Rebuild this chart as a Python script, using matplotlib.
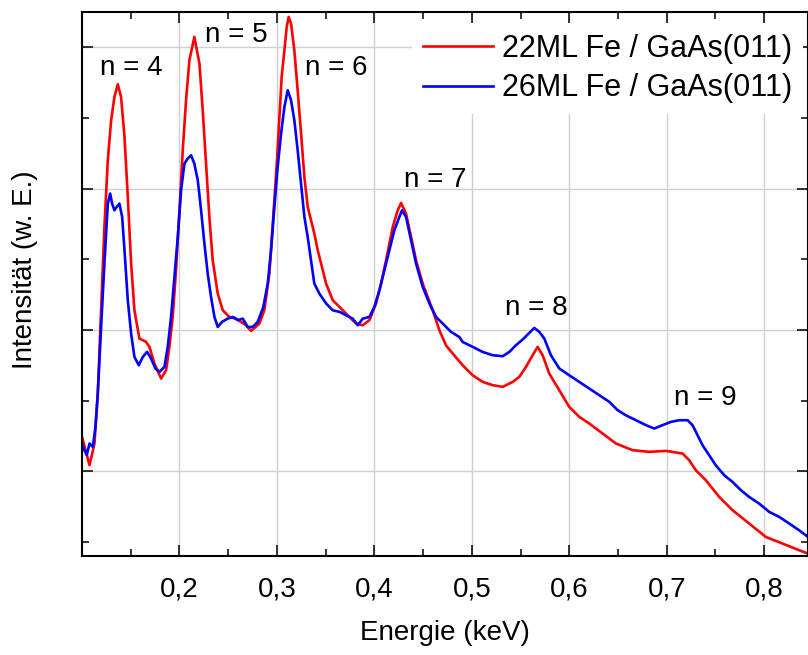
"""Plot of the n = 4..9 resonances for two Fe / GaAs(011) films"""
import matplotlib
matplotlib.use("Agg")
import matplotlib.pyplot as plt
from matplotlib.ticker import MultipleLocator, FuncFormatter

plt.rcParams['font.family'] = ['Liberation Sans', 'DejaVu Sans']

# energy (keV) and intensity (arb. units)
energy_22 = [0.100, 0.1077, 0.1128, 0.1162, 0.1196, 0.1230, 0.1265, 0.1299, 0.1333, 0.1367,
             0.1401, 0.1436, 0.1470, 0.1504, 0.1538, 0.1589, 0.1658, 0.1692, 0.1743, 0.1812,
             0.1863, 0.1897, 0.1931, 0.1965, 0.2000, 0.2034, 0.2068, 0.2102, 0.2153, 0.2205,
             0.2239, 0.2273, 0.2307, 0.2341, 0.2393, 0.2444, 0.2512, 0.2581, 0.2683, 0.2735,
             0.2820, 0.2871, 0.2923, 0.2974, 0.3001, 0.3026, 0.3049, 0.3077, 0.3101, 0.3121,
             0.3145, 0.3179, 0.3213, 0.3248, 0.3282, 0.3316, 0.3350, 0.3384, 0.3419, 0.3505,
             0.3573, 0.3642, 0.3744, 0.3812, 0.3881, 0.3949, 0.4018, 0.4069, 0.4120, 0.4189,
             0.4240, 0.4274, 0.4325, 0.4377, 0.4428, 0.4496, 0.4599, 0.4667, 0.4736, 0.4804,
             0.4906, 0.5009, 0.5112, 0.5214, 0.5317, 0.5419, 0.5488, 0.5556, 0.5624, 0.5676,
             0.5727, 0.5795, 0.5898, 0.6000, 0.6103, 0.6206, 0.6342, 0.6479, 0.6650, 0.6821,
             0.6992, 0.7163, 0.7231, 0.7299, 0.7402, 0.7539, 0.7676, 0.7846, 0.8017, 0.8188,
             0.8359, 0.8450]
intens_22 = [1.243, 1.043, 1.196, 1.550, 2.139, 2.729, 3.201, 3.484, 3.649, 3.739,
             3.649, 3.366, 2.942, 2.470, 2.139, 1.939, 1.915, 1.880, 1.762, 1.656,
             1.715, 1.880, 2.092, 2.423, 2.847, 3.272, 3.626, 3.909, 4.074, 3.885,
             3.555, 3.177, 2.800, 2.493, 2.257, 2.140, 2.092, 2.080, 2.033, 1.993,
             2.045, 2.140, 2.400, 2.918, 3.201, 3.508, 3.791, 3.980, 4.145, 4.215,
             4.168, 3.980, 3.696, 3.390, 3.083, 2.871, 2.776, 2.682, 2.564, 2.328,
             2.210, 2.163, 2.092, 2.045, 2.033, 2.069, 2.187, 2.328, 2.493, 2.729,
             2.847, 2.899, 2.823, 2.658, 2.493, 2.328, 2.139, 1.998, 1.890, 1.833,
             1.750, 1.679, 1.632, 1.609, 1.597, 1.632, 1.668, 1.738, 1.821, 1.880,
             1.821, 1.691, 1.573, 1.455, 1.385, 1.337, 1.267, 1.196, 1.149, 1.137,
             1.144, 1.125, 1.078, 1.007, 0.936, 0.818, 0.724, 0.630, 0.535, 0.488,
             0.441, 0.417]

energy_26 = [0.100, 0.1025, 0.1049, 0.1077, 0.1111, 0.1138, 0.1162, 0.1196, 0.1230, 0.1265,
             0.1289, 0.1309, 0.1333, 0.1357, 0.1384, 0.1412, 0.1436, 0.1470, 0.1504, 0.1538,
             0.1583, 0.1624, 0.1668, 0.1709, 0.1753, 0.1795, 0.1846, 0.1880, 0.1914, 0.1948,
             0.1983, 0.2017, 0.2051, 0.2085, 0.2119, 0.2153, 0.2188, 0.2222, 0.2256, 0.2290,
             0.2324, 0.2359, 0.2393, 0.2437, 0.2495, 0.2547, 0.2598, 0.2649, 0.2701, 0.2752,
             0.2803, 0.2860, 0.2906, 0.2940, 0.2974, 0.3008, 0.3043, 0.3077, 0.3111, 0.3145,
             0.3179, 0.3213, 0.3248, 0.3282, 0.3316, 0.3350, 0.3384, 0.3436, 0.3505, 0.3573,
             0.3642, 0.3710, 0.3778, 0.3830, 0.3881, 0.3949, 0.4000, 0.4052, 0.4103, 0.4154,
             0.4205, 0.4257, 0.4284, 0.4325, 0.4377, 0.4428, 0.4496, 0.4565, 0.4633, 0.4701,
             0.4787, 0.4872, 0.4906, 0.5009, 0.5112, 0.5214, 0.5317, 0.5385, 0.5453, 0.5522,
             0.5590, 0.5641, 0.5693, 0.5744, 0.5812, 0.5898, 0.6000, 0.6103, 0.6206, 0.6308,
             0.6411, 0.6496, 0.6581, 0.6684, 0.6787, 0.6872, 0.6957, 0.7043, 0.7129, 0.7214,
             0.7265, 0.7316, 0.7368, 0.7436, 0.7504, 0.7590, 0.7676, 0.7761, 0.7846, 0.7949,
             0.8052, 0.8154, 0.8257, 0.8359, 0.8450]
intens_26 = [1.196, 1.149, 1.113, 1.196, 1.172, 1.314, 1.550, 2.021, 2.470, 2.894,
             2.965, 2.894, 2.847, 2.871, 2.894, 2.800, 2.564, 2.210, 1.974, 1.809,
             1.750, 1.809, 1.845, 1.797, 1.727, 1.703, 1.738, 1.880, 2.092, 2.375,
             2.659, 2.989, 3.177, 3.213, 3.236, 3.177, 3.059, 2.847, 2.611, 2.399,
             2.234, 2.092, 2.021, 2.057, 2.080, 2.092, 2.069, 2.080, 2.021, 2.021,
             2.057, 2.160, 2.328, 2.564, 2.871, 3.154, 3.390, 3.578, 3.696, 3.626,
             3.484, 3.272, 3.036, 2.800, 2.658, 2.493, 2.328, 2.257, 2.187, 2.139,
             2.128, 2.104, 2.080, 2.033, 2.080, 2.092, 2.163, 2.281, 2.423, 2.564,
             2.705, 2.800, 2.847, 2.800, 2.635, 2.470, 2.305, 2.187, 2.092, 2.045,
             1.986, 1.950, 1.915, 1.880, 1.844, 1.821, 1.814, 1.844, 1.892, 1.932,
             1.979, 2.014, 1.986, 1.939, 1.821, 1.727, 1.679, 1.632, 1.585, 1.538,
             1.491, 1.432, 1.396, 1.361, 1.326, 1.302, 1.326, 1.349, 1.361, 1.361,
             1.326, 1.255, 1.184, 1.113, 1.042, 0.972, 0.924, 0.866, 0.818, 0.771,
             0.712, 0.677, 0.630, 0.582, 0.535]

labels = ['22ML Fe / GaAs(011)', '26ML Fe / GaAs(011)']

# peak labels
peak_names = ['n = 4', 'n = 5', 'n = 6', 'n = 7', 'n = 8', 'n = 9']
peak_x = [0.151, 0.258, 0.361, 0.463, 0.566, 0.740]
peak_y = [3.852, 4.085, 3.852, 3.060, 2.154, 1.517]


def comma_label(v, pos):
    """Decimal comma, no label on the left edge"""
    if v < 0.15:
        return ''
    return f'{v:.1f}'.replace('.', ',')


fig = plt.figure(figsize=(8.08, 6.55), dpi=100)
ax = fig.add_axes([82 / 808, 1 - 556 / 655, 1 - 82 / 808, 544 / 655])

ax.plot(energy_22, intens_22, color='#ff0000', lw=1.9, label=labels[0],
        solid_joinstyle='round')
ax.plot(energy_26, intens_26, color='#0000ff', lw=1.9, label=labels[1],
        solid_joinstyle='round')

for name, px, py in zip(peak_names, peak_x, peak_y):
    ax.text(px, py, name, fontsize=20, ha='center', va='center')

ax.set_xlim(0.1, 0.845)
ax.set_ylim(0.4, 4.25)
ax.xaxis.set_major_locator(MultipleLocator(0.1))
ax.xaxis.set_minor_locator(MultipleLocator(0.05))
ax.yaxis.set_major_locator(MultipleLocator(1))
ax.yaxis.set_minor_locator(MultipleLocator(0.5))
ax.xaxis.set_major_formatter(FuncFormatter(comma_label))

ax.grid(True, which='major', color='#d0d0d0', lw=1.0)
ax.set_axisbelow(True)
ax.tick_params(which='both', direction='in', top=True, right=True, width=1.1,
               labelsize=20, pad=15, labelleft=False)
ax.tick_params(which='major', length=8)
ax.tick_params(which='minor', length=5)
for sp in ax.spines.values():
    sp.set_linewidth(1.5)

ax.set_xlabel('Energie (keV)', fontsize=20)
ax.xaxis.set_label_coords(0.5, -0.118)
ax.xaxis.label.set_va('top')
ax.set_ylabel('Intensität (w. E.)', fontsize=20)
ax.yaxis.set_label_coords(-0.060, 0.526)

leg = ax.legend(loc='upper left', bbox_to_anchor=(0.4545, 0.98), fontsize=22,
                frameon=True, framealpha=1, borderpad=0.35, borderaxespad=0,
                handlelength=2.3, handletextpad=0.3, labelspacing=0.32)
leg.get_frame().set_edgecolor('none')
leg.get_frame().set_boxstyle('square', pad=0)

fig.savefig('out.png', dpi=100)
